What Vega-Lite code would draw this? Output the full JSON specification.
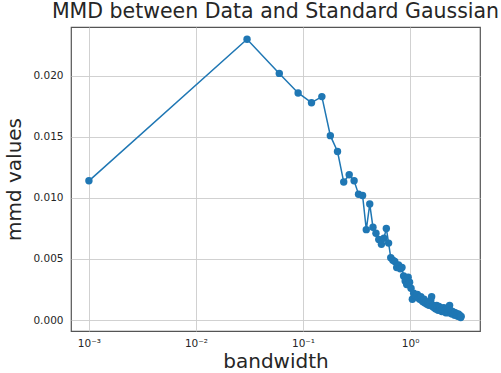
{
  "$schema": "https://vega.github.io/schema/vega-lite/v6.json",
  "width": 409,
  "height": 304,
  "autosize": {"type": "none"},
  "padding": {"left": 71, "top": 27, "right": 21, "bottom": 42},
  "background": "white",
  "config": {
    "font": "DejaVu Sans",
    "view": {"stroke": "#555555", "strokeWidth": 1.2},
    "axis": {"grid": true, "gridColor": "#cccccc", "gridWidth": 0.9, "domain": false, "ticks": false, "labelColor": "#262626", "labelFontSize": 10.5, "titleColor": "#262626", "titleFontSize": 20, "titleFontWeight": "normal"}
  },
  "title": {"text": "MMD between Data and Standard Gaussian", "fontSize": 20.5, "fontWeight": "normal", "color": "#262626", "anchor": "middle", "offset": 5},
  "data": {"values": [
    {"bandwidth": 0.001, "mmd": 0.0114},
    {"bandwidth": 0.03, "mmd": 0.0230},
    {"bandwidth": 0.06, "mmd": 0.0202},
    {"bandwidth": 0.09, "mmd": 0.0186},
    {"bandwidth": 0.12, "mmd": 0.0178},
    {"bandwidth": 0.15, "mmd": 0.0183},
    {"bandwidth": 0.18, "mmd": 0.0151},
    {"bandwidth": 0.21, "mmd": 0.0138},
    {"bandwidth": 0.24, "mmd": 0.0113},
    {"bandwidth": 0.27, "mmd": 0.0119},
    {"bandwidth": 0.30, "mmd": 0.0114},
    {"bandwidth": 0.33, "mmd": 0.0103},
    {"bandwidth": 0.36, "mmd": 0.0102},
    {"bandwidth": 0.39, "mmd": 0.0074},
    {"bandwidth": 0.42, "mmd": 0.0095},
    {"bandwidth": 0.45, "mmd": 0.0076},
    {"bandwidth": 0.48, "mmd": 0.0071},
    {"bandwidth": 0.51, "mmd": 0.0066},
    {"bandwidth": 0.54, "mmd": 0.0062},
    {"bandwidth": 0.57, "mmd": 0.0067},
    {"bandwidth": 0.60, "mmd": 0.0075},
    {"bandwidth": 0.63, "mmd": 0.0063},
    {"bandwidth": 0.66, "mmd": 0.0051},
    {"bandwidth": 0.69, "mmd": 0.0049},
    {"bandwidth": 0.72, "mmd": 0.0048},
    {"bandwidth": 0.75, "mmd": 0.0043},
    {"bandwidth": 0.78, "mmd": 0.0045},
    {"bandwidth": 0.81, "mmd": 0.0042},
    {"bandwidth": 0.84, "mmd": 0.0043},
    {"bandwidth": 0.87, "mmd": 0.0036},
    {"bandwidth": 0.90, "mmd": 0.0032},
    {"bandwidth": 0.93, "mmd": 0.0029},
    {"bandwidth": 0.96, "mmd": 0.0035},
    {"bandwidth": 0.99, "mmd": 0.0031},
    {"bandwidth": 1.02, "mmd": 0.0026},
    {"bandwidth": 1.05, "mmd": 0.0017},
    {"bandwidth": 1.08, "mmd": 0.0022},
    {"bandwidth": 1.11, "mmd": 0.0020},
    {"bandwidth": 1.14, "mmd": 0.0019},
    {"bandwidth": 1.17, "mmd": 0.0021},
    {"bandwidth": 1.20, "mmd": 0.0018},
    {"bandwidth": 1.23, "mmd": 0.0017},
    {"bandwidth": 1.26, "mmd": 0.0019},
    {"bandwidth": 1.29, "mmd": 0.0016},
    {"bandwidth": 1.32, "mmd": 0.0015},
    {"bandwidth": 1.35, "mmd": 0.0017},
    {"bandwidth": 1.38, "mmd": 0.0014},
    {"bandwidth": 1.41, "mmd": 0.0015},
    {"bandwidth": 1.44, "mmd": 0.0013},
    {"bandwidth": 1.47, "mmd": 0.0014},
    {"bandwidth": 1.50, "mmd": 0.0012},
    {"bandwidth": 1.53, "mmd": 0.0013},
    {"bandwidth": 1.56, "mmd": 0.0016},
    {"bandwidth": 1.59, "mmd": 0.0019},
    {"bandwidth": 1.62, "mmd": 0.0011},
    {"bandwidth": 1.65, "mmd": 0.0012},
    {"bandwidth": 1.68, "mmd": 0.0010},
    {"bandwidth": 1.71, "mmd": 0.0011},
    {"bandwidth": 1.74, "mmd": 0.0009},
    {"bandwidth": 1.77, "mmd": 0.0012},
    {"bandwidth": 1.80, "mmd": 0.0010},
    {"bandwidth": 1.83, "mmd": 0.0008},
    {"bandwidth": 1.86, "mmd": 0.0011},
    {"bandwidth": 1.89, "mmd": 0.0009},
    {"bandwidth": 1.92, "mmd": 0.0010},
    {"bandwidth": 1.95, "mmd": 0.0008},
    {"bandwidth": 1.98, "mmd": 0.0007},
    {"bandwidth": 2.01, "mmd": 0.0009},
    {"bandwidth": 2.04, "mmd": 0.0008},
    {"bandwidth": 2.07, "mmd": 0.0010},
    {"bandwidth": 2.10, "mmd": 0.0007},
    {"bandwidth": 2.13, "mmd": 0.0008},
    {"bandwidth": 2.16, "mmd": 0.0006},
    {"bandwidth": 2.19, "mmd": 0.0009},
    {"bandwidth": 2.22, "mmd": 0.0007},
    {"bandwidth": 2.25, "mmd": 0.0008},
    {"bandwidth": 2.28, "mmd": 0.0006},
    {"bandwidth": 2.31, "mmd": 0.0007},
    {"bandwidth": 2.34, "mmd": 0.0012},
    {"bandwidth": 2.37, "mmd": 0.0008},
    {"bandwidth": 2.40, "mmd": 0.0006},
    {"bandwidth": 2.43, "mmd": 0.0007},
    {"bandwidth": 2.46, "mmd": 0.0005},
    {"bandwidth": 2.49, "mmd": 0.0007},
    {"bandwidth": 2.52, "mmd": 0.0006},
    {"bandwidth": 2.55, "mmd": 0.0005},
    {"bandwidth": 2.58, "mmd": 0.0006},
    {"bandwidth": 2.61, "mmd": 0.0004},
    {"bandwidth": 2.64, "mmd": 0.0006},
    {"bandwidth": 2.67, "mmd": 0.0005},
    {"bandwidth": 2.70, "mmd": 0.0004},
    {"bandwidth": 2.73, "mmd": 0.0005},
    {"bandwidth": 2.76, "mmd": 0.0004},
    {"bandwidth": 2.79, "mmd": 0.0003},
    {"bandwidth": 2.82, "mmd": 0.0005},
    {"bandwidth": 2.85, "mmd": 0.0004},
    {"bandwidth": 2.88, "mmd": 0.0003},
    {"bandwidth": 2.91, "mmd": 0.0004},
    {"bandwidth": 2.94, "mmd": 0.0003},
    {"bandwidth": 2.97, "mmd": 0.0002},
    {"bandwidth": 3.00, "mmd": 0.0003}
  ]},
  "mark": {"type": "line", "color": "#1f77b4", "strokeWidth": 1.5, "point": {"filled": true, "size": 55, "color": "#1f77b4", "opacity": 1}},
  "encoding": {
    "x": {"field": "bandwidth", "type": "quantitative", "sort": null,
      "scale": {"type": "log", "domain": [0.00068, 4.5], "nice": false},
      "axis": {"title": "bandwidth", "values": [0.001, 0.01, 0.1, 1], "labelExpr": "datum.value < 0.005 ? '10⁻³' : datum.value < 0.05 ? '10⁻²' : datum.value < 0.5 ? '10⁻¹' : '10⁰'", "labelPadding": 7, "titlePadding": 3}},
    "y": {"field": "mmd", "type": "quantitative",
      "scale": {"domain": [-0.0009, 0.024], "nice": false, "zero": false},
      "axis": {"title": "mmd values", "values": [0, 0.005, 0.01, 0.015, 0.02], "format": ".3f", "labelPadding": 8, "titlePadding": 8}}
  }
}
